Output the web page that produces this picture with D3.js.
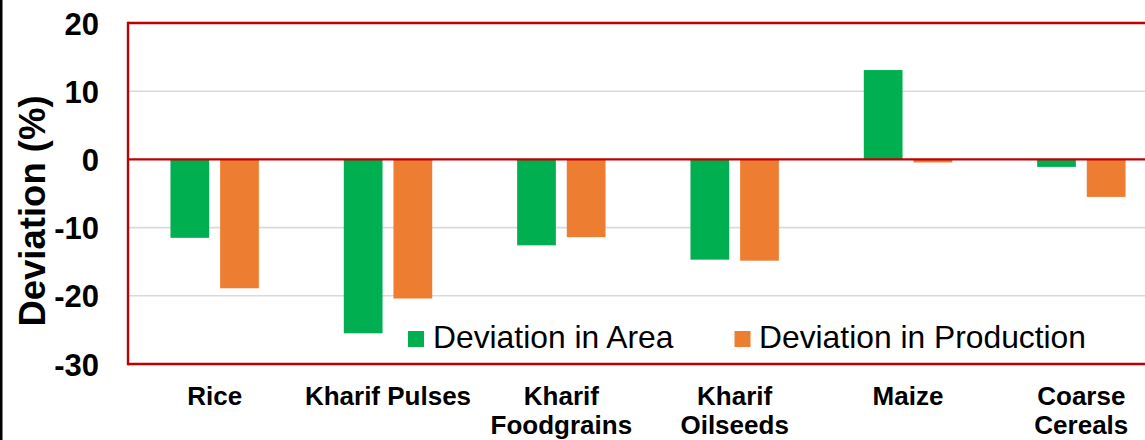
<!DOCTYPE html>
<html>
<head>
<meta charset="utf-8">
<script src="https://cdn.jsdelivr.net/npm/d3@7/dist/d3.min.js"></script>
<style>
  html, body { margin: 0; padding: 0; background: #fff; overflow: hidden; }
  svg { display: block; font-family: "Liberation Sans", Arial, sans-serif; }
</style>
</head>
<body>
<svg id="chart" width="1145" height="440"></svg>
<script>
const categories = [["Rice"], ["Kharif Pulses"], ["Kharif", "Foodgrains"], ["Kharif", "Oilseeds"], ["Maize"], ["Coarse", "Cereals"]];
const seriesNames = ["Deviation in Area", "Deviation in Production"];
const areaValues = [-11.5, -25.5, -12.6, -14.7, 13.1, -1.1];
const productionValues = [-18.9, -20.4, -11.4, -14.85, -0.45, -5.5];
const yTicks = [20, 10, 0, -10, -20, -30];
const colors = ["#00B050", "#ED7D31"];

const svg = d3.select("#chart");
const W = 1145, H = 440;
const plot = { left: 128, right: 1168, top: 23, bottom: 364 };

const catKeys = categories.map(c => c.join(" "));
const x = d3.scaleBand().domain(catKeys).range([plot.left, plot.right]).paddingInner(0).paddingOuter(0);
const xs = d3.scaleBand().domain(seriesNames).range([-44.2, 44.2]).paddingInner(0.22).paddingOuter(0);
const y = d3.scaleLinear().domain([-30, 20]).range([plot.bottom, plot.top]);

// left black edge
svg.append("rect").attr("x", 0).attr("y", 0).attr("width", 2.5).attr("height", H).attr("fill", "#000");

// gridlines
svg.append("g").selectAll("line").data(yTicks.filter(t => t !== 20 && t !== -30 && t !== 0)).join("line")
  .attr("x1", plot.left).attr("x2", W)
  .attr("y1", d => y(d)).attr("y2", d => y(d))
  .attr("stroke", "#d9d9d9").attr("stroke-width", 1.6);

// bars
const data = catKeys.map((k, i) => ({ key: k, vals: [areaValues[i], productionValues[i]] }));
const groups = svg.append("g").selectAll("g").data(data).join("g")
  .attr("transform", d => `translate(${x(d.key) + x.bandwidth() / 2},0)`);
groups.selectAll("rect").data(d => d.vals.map((v, j) => ({ v, s: seriesNames[j], j }))).join("rect")
  .attr("x", d => xs(d.s))
  .attr("width", xs.bandwidth())
  .attr("y", d => Math.min(y(d.v), y(0)))
  .attr("height", d => Math.abs(y(d.v) - y(0)))
  .attr("fill", d => colors[d.j]);

// plot border (red) and zero line
const red = "#C00000";
svg.append("line").attr("x1", plot.left).attr("x2", W).attr("y1", plot.top).attr("y2", plot.top).attr("stroke", red).attr("stroke-width", 2.4);
svg.append("line").attr("x1", plot.left).attr("x2", W).attr("y1", plot.bottom).attr("y2", plot.bottom).attr("stroke", red).attr("stroke-width", 2.4);
svg.append("line").attr("x1", plot.left).attr("x2", plot.left).attr("y1", plot.top - 1.2).attr("y2", plot.bottom + 1.2).attr("stroke", red).attr("stroke-width", 2.4);
svg.append("line").attr("x1", plot.left).attr("x2", W).attr("y1", y(0)).attr("y2", y(0)).attr("stroke", red).attr("stroke-width", 2.4);

// y tick labels
const yAxis = d3.axisLeft(y).tickValues(yTicks).tickSize(0).tickPadding(0).tickFormat(d => String(d));
const yg = svg.append("g").attr("transform", `translate(99,0)`).call(yAxis);
yg.select(".domain").remove();
yg.selectAll("text").attr("font-size", 31).attr("font-weight", "bold").attr("fill", "#000")
  .attr("font-family", "'Liberation Sans', Arial, sans-serif").attr("dy", "0.36em");

// y axis title
svg.append("text")
  .attr("transform", `translate(45,211) rotate(-90)`)
  .attr("text-anchor", "middle")
  .attr("font-size", 36.5).attr("font-weight", "bold").attr("fill", "#000")
  .text("Deviation (%)");

// category labels
const xl = svg.append("g");
categories.forEach((lines, i) => {
  const t = xl.append("text")
    .attr("x", x(catKeys[i]) + x.bandwidth() / 2)
    .attr("y", 405)
    .attr("text-anchor", "middle")
    .attr("font-size", 26).attr("font-weight", "bold").attr("fill", "#000");
  lines.forEach((ln, k) => {
    t.append("tspan").attr("x", x(catKeys[i]) + x.bandwidth() / 2).attr("dy", k === 0 ? 0 : 29).text(ln);
  });
});

// legend
const legendItems = [{ name: seriesNames[0], sx: 408, tx: 433 }, { name: seriesNames[1], sx: 734.5, tx: 759 }];
const lg = svg.append("g");
legendItems.forEach((it, i) => {
  lg.append("rect").attr("x", it.sx).attr("y", 331).attr("width", 16).attr("height", 16).attr("fill", colors[i]);
  lg.append("text").attr("x", it.tx).attr("y", 348).attr("font-size", 31.8).attr("fill", "#000").text(it.name);
});
</script>
</body>
</html>
